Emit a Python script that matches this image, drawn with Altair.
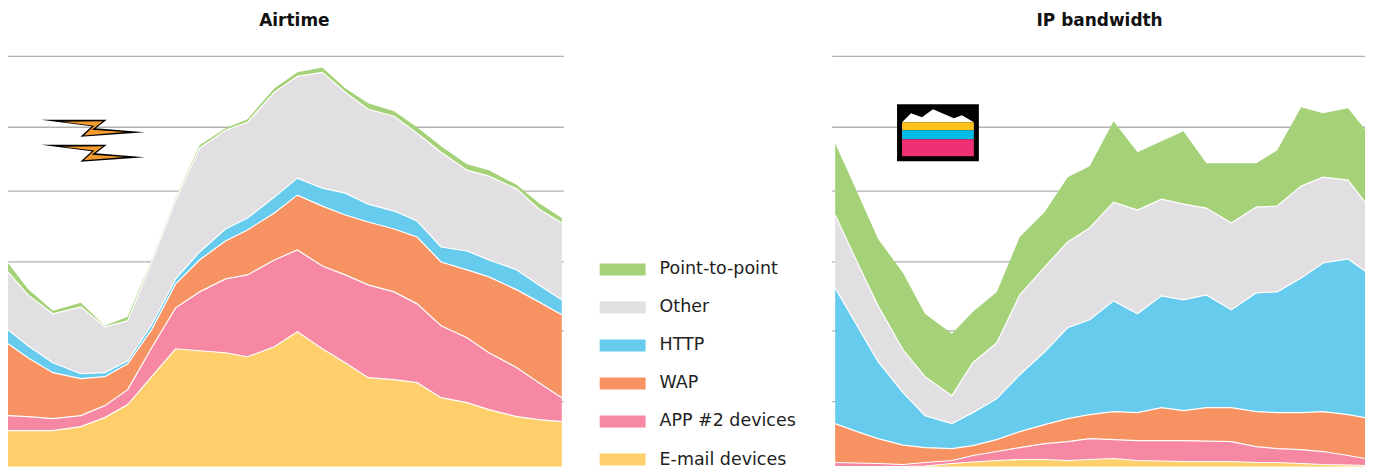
import altair as alt
import pandas as pd

series = ["Point-to-point", "Other", "HTTP", "WAP", "APP #2 devices", "E-mail devices"]
colors = ["#A5D279", "#E1DFE2", "#66CBEC", "#F79263", "#F688A3", "#FFCF6C"]
grid_levels = [413, 342, 278, 207, 138, 67]

# cumulative top of every band, in chart units above the baseline
air_x = [8, 28, 53, 81, 105, 128, 152, 176, 200, 226, 248, 275, 298, 323, 346, 369, 395, 418, 442, 468, 490, 518, 540, 563]
air_email = [38, 38, 38, 42, 51, 64, 92, 120, 118, 116, 112, 122, 137, 120, 106, 91, 89, 86, 71, 66, 59, 52, 49, 47]
air_app2 = [53, 52, 50, 53, 63, 79, 121, 161, 177, 190, 194, 209, 219, 203, 194, 184, 177, 165, 143, 131, 116, 101, 86, 71]
air_wap = [125, 111, 96, 90, 92, 105, 139, 185, 209, 228, 239, 256, 274, 263, 254, 247, 240, 232, 207, 199, 192, 179, 167, 154]
air_http = [139, 123, 106, 95, 96, 108, 144, 190, 217, 240, 251, 272, 291, 281, 276, 265, 258, 248, 222, 218, 209, 199, 184, 169]
air_other = [197, 174, 155, 162, 142, 148, 207, 269, 321, 339, 347, 377, 393, 397, 377, 360, 353, 336, 317, 299, 293, 280, 260, 246]
air_p2p = [206, 180, 158, 166, 143, 152, 209, 271, 324, 341, 350, 381, 397, 402, 381, 366, 358, 342, 323, 305, 299, 284, 266, 251]

ip_x = [835, 857, 878, 903, 925, 952, 973, 997, 1020, 1045, 1068, 1090, 1114, 1138, 1162, 1184, 1207, 1232, 1257, 1278, 1302, 1324, 1349, 1368]
ip_email = [1.5, 1, 1, 1, 2.5, 5, 6.5, 8, 9, 9, 8, 9, 10, 8, 7.5, 7, 7, 7, 6, 6, 5, 4, 3.5, 3]
ip_app2 = [6, 5.5, 5, 4, 6, 8, 13, 17, 21, 25, 27, 30, 29, 28, 28, 28, 27.5, 27, 22, 20, 19, 17, 13, 10]
ip_wap = [45, 37, 30, 23.5, 21, 20, 23, 29, 37, 44, 50, 54, 57, 56, 61, 58, 61, 61, 57, 56, 56, 57, 54, 51]
ip_http = [181, 143, 107, 76, 53, 45, 56, 70, 94, 117, 141, 149, 168, 155, 173, 169, 174, 159, 176, 177, 191, 206, 210, 198]
ip_other = [254, 207, 163, 119, 92, 73, 106, 126, 174, 202, 227, 241, 267, 259, 270, 265, 261, 246, 262, 263, 283, 292, 289, 267]
ip_p2p = [326, 277, 230, 196, 155, 135, 157, 177, 232, 257, 292, 303, 348, 317, 328, 338, 306, 306, 306, 319, 362, 356, 361, 340]

# icon parts
bolt_x = [93, 93]
bolt_y = [341, 316]
BOLT_OUTER = "M-52,-8.5 L14,-8.5 L3,0 L52,4 L-12.5,8.5 L-1,-2 Z"
BOLT_INNER = "M-30,-6.5 L10,-7 L-1,1.5 L32,3.8 L-9,7.2 L1.5,-2.6 Z"
band_x = [902, 902, 902]
band_x2 = [974, 974, 974]
band_top = [347, 339, 330]
band_bottom = [339, 330, 313]
band_colors = ["#FFC21C", "#00BCE8", "#F12F75"]
peak_x = [902, 911, 922, 933, 954, 962, 974]
peak_y = [347, 356, 352, 360, 351, 354, 347]
frame = dict(x=[897], x2=[979], top=[365], bottom=[308])

LABEL_FONT = "DejaVu Sans"
TITLE_SIZE = 17
OFFSET = 6
PLOT_H = 431   # bottom of the plot sits at page y = 467
Y = alt.Scale(domain=[2, 433], range=[PLOT_H, 0], nice=False, zero=False, clamp=True)
color = alt.Color(
    "series:N",
    scale=alt.Scale(domain=series, range=colors),
    legend=alt.Legend(
        orient="none", legendX=606, legendY=223.5, title=None, padding=0,
        symbolType="M-2.3,-0.6 L2.3,-0.6 L2.3,0.6 L-2.3,0.6 Z",
        symbolSize=400, symbolStrokeWidth=0, symbolOpacity=1,
        labelFont=LABEL_FONT, labelFontSize=17.5, labelColor="#222222", labelOffset=27,
        rowPadding=19.1, labelLimit=200,
    ),
)


def table(xs, tops):
    rows = []
    below = [0] * len(xs)
    for name in reversed(series):
        for x, lo, hi in zip(xs, below, tops[name]):
            rows.append({"x": x, "series": name, "low": lo, "top": hi})
        below = tops[name]
    return pd.DataFrame(rows)


def panel(title, dx, xs, tops, domain, width, extras):
    df = table(xs, tops)
    X = alt.Scale(domain=domain, range=[0, width], nice=False, zero=False, clamp=True)
    grid = alt.Chart(pd.DataFrame({"level": grid_levels, "a": [domain[0]] * 6, "b": [domain[1]] * 6})).mark_rule(
        color="#B2B2B2", strokeWidth=1.3
    ).encode(
        x=alt.X("a:Q", scale=X, axis=None),
        x2="b:Q",
        y=alt.Y("level:Q", scale=Y, axis=None),
    )
    area = alt.Chart(df).mark_area(interpolate="linear", opacity=1).encode(
        x=alt.X("x:Q", scale=X, axis=None),
        y=alt.Y("top:Q", scale=Y, axis=None, stack=None),
        y2="low:Q",
        color=color,
    )
    edge = alt.Chart(df[df.series != series[0]]).mark_line(color="white", strokeWidth=1.2, interpolate="linear").encode(
        x=alt.X("x:Q", scale=X, axis=None),
        y=alt.Y("top:Q", scale=Y, axis=None),
        detail="series:N",
    )
    return alt.layer(grid, area, edge, *[e(X) for e in extras]).properties(
        width=width, height=PLOT_H,
        title=alt.TitleParams(title, font=LABEL_FONT, fontSize=TITLE_SIZE, fontWeight="bold", color="#111111", dx=dx, offset=OFFSET, anchor="middle"),
    )


def bolts(X):
    d = pd.DataFrame({"x": bolt_x, "y": bolt_y})
    enc = dict(x=alt.X("x:Q", scale=X, axis=None), y=alt.Y("y:Q", scale=Y, axis=None))
    outer = alt.Chart(d).mark_point(shape=BOLT_OUTER, size=4, filled=True, color="#000000", opacity=1).encode(**enc)
    inner = alt.Chart(d).mark_point(shape=BOLT_INNER, size=4, filled=True, color="#F59C30", opacity=1).encode(**enc)
    return outer + inner


def tv_icon(X):
    box = alt.Chart(pd.DataFrame(frame)).mark_rect(color="#000000").encode(
        x=alt.X("x:Q", scale=X, axis=None), x2="x2:Q",
        y=alt.Y("top:Q", scale=Y, axis=None), y2="bottom:Q",
    )
    bands = alt.Chart(pd.DataFrame({"x": band_x, "x2": band_x2, "top": band_top, "bottom": band_bottom, "c": band_colors})).mark_rect().encode(
        x=alt.X("x:Q", scale=X, axis=None), x2="x2:Q",
        y=alt.Y("top:Q", scale=Y, axis=None), y2="bottom:Q",
        fill=alt.Fill("c:N", scale=None),
    )
    peaks = alt.Chart(pd.DataFrame({"x": peak_x, "y": peak_y, "base": [347] * 7})).mark_area(color="white", opacity=1).encode(
        x=alt.X("x:Q", scale=X, axis=None),
        y=alt.Y("y:Q", scale=Y, axis=None, stack=None),
        y2="base:Q",
    )
    return box + peaks + bands


air_tops = dict(zip(series, [air_p2p, air_other, air_http, air_wap, air_app2, air_email]))
ip_tops = dict(zip(series, [ip_p2p, ip_other, ip_http, ip_wap, ip_app2, ip_email]))

left = panel("Airtime", 8.5, air_x, air_tops, [8, 565], 557, [bolts])
right = panel("IP bandwidth", 1, ip_x, ip_tops, [832, 1366], 534, [tv_icon])

chart = alt.hconcat(left, right, spacing=267).resolve_scale(color="shared").properties(
    padding={"top": 4, "left": -3, "right": -2, "bottom": 0}, background="white"
).configure_view(stroke=None)

chart.save("out.html", embed_options={"renderer": "svg", "actions": False})
